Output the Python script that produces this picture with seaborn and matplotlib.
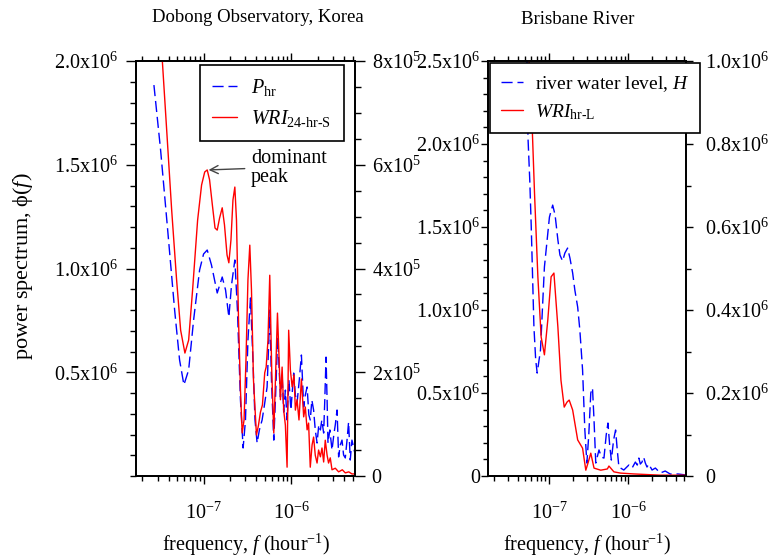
import matplotlib
matplotlib.use("Agg")
import matplotlib.pyplot as plt
from matplotlib.lines import Line2D
from matplotlib.ticker import FixedLocator, MultipleLocator, FixedFormatter, NullFormatter, FuncFormatter
import seaborn as sns
import pandas as pd
import numpy as np

# ---------------- data ----------------
# Dobong Observatory: hourly precipitation P_hr (left axis, units of 1e6)
dob_p_freq = [2.72e-8, 3.24e-8, 3.90e-8, 4.68e-8, 5.33e-8, 5.97e-8, 6.76e-8, 7.70e-8, 9.01e-8, 1.00e-7,
              1.10e-7, 1.23e-7, 1.43e-7, 1.63e-7, 1.78e-7, 1.94e-7, 2.08e-7, 2.27e-7, 2.43e-7, 2.63e-7,
              2.82e-7, 3.00e-7, 3.20e-7, 3.42e-7, 3.65e-7, 3.85e-7, 4.07e-7, 4.32e-7, 4.64e-7, 4.93e-7,
              5.29e-7, 5.48e-7, 5.67e-7, 5.93e-7, 6.30e-7, 6.58e-7, 6.98e-7, 7.50e-7, 7.84e-7, 8.17e-7,
              8.54e-7, 8.93e-7, 9.37e-7, 9.87e-7, 1.062e-6, 1.11e-6, 1.16e-6, 1.23e-6, 1.30e-6, 1.38e-6,
              1.44e-6, 1.51e-6, 1.58e-6, 1.64e-6, 1.71e-6, 1.79e-6, 1.87e-6, 1.96e-6, 2.05e-6, 2.14e-6,
              2.22e-6, 2.33e-6, 2.40e-6, 2.48e-6, 2.55e-6, 2.61e-6, 2.74e-6, 2.90e-6, 3.04e-6, 3.16e-6,
              3.31e-6, 3.45e-6, 3.60e-6, 3.77e-6, 3.93e-6, 4.11e-6, 4.30e-6, 4.48e-6, 4.68e-6, 4.89e-6,
              5.10e-6, 5.33e-6]
dob_p_val = [1.884, 1.571, 1.186, 0.800, 0.559, 0.439, 0.511, 0.752, 0.993, 1.070,
             1.089, 1.017, 0.882, 0.959, 0.896, 0.766, 0.920, 1.041, 0.800, 0.366,
             0.135, 0.270, 0.655, 0.858, 0.559, 0.270, 0.159, 0.222, 0.270, 0.342,
             0.429, 0.607, 0.800, 0.463, 0.173, 0.366, 0.670, 0.381, 0.487, 0.308,
             0.414, 0.270, 0.463, 0.318, 0.496, 0.390, 0.352, 0.463, 0.583, 0.333,
             0.390, 0.429, 0.294, 0.270, 0.366, 0.318, 0.222, 0.159, 0.246, 0.222,
             0.270, 0.207, 0.366, 0.573, 0.366, 0.159, 0.222, 0.125, 0.198, 0.246,
             0.318, 0.092, 0.149, 0.173, 0.101, 0.087, 0.173, 0.260, 0.077, 0.173,
             0.140, 0.101]

# Dobong Observatory: WRI_24-hr-S (right axis, units of 1e5)
dob_w_freq = [3.25e-8, 3.80e-8, 4.33e-8, 4.93e-8, 5.48e-8, 6.13e-8, 6.76e-8, 7.50e-8, 8.55e-8, 9.49e-8,
              1.03e-7, 1.10e-7, 1.17e-7, 1.26e-7, 1.35e-7, 1.43e-7, 1.52e-7, 1.63e-7, 1.73e-7, 1.85e-7,
              1.94e-7, 2.05e-7, 2.16e-7, 2.27e-7, 2.37e-7, 2.50e-7, 2.63e-7, 2.75e-7, 2.89e-7, 3.04e-7,
              3.20e-7, 3.36e-7, 3.51e-7, 3.70e-7, 4.00e-7, 4.22e-7, 4.44e-7, 4.68e-7, 4.97e-7, 5.16e-7,
              5.41e-7, 5.67e-7, 5.97e-7, 6.30e-7, 6.58e-7, 6.94e-7, 7.25e-7, 7.50e-7, 7.84e-7, 8.17e-7,
              8.54e-7, 8.93e-7, 9.31e-7, 9.74e-7, 1.02e-6, 1.07e-6, 1.11e-6, 1.16e-6, 1.22e-6, 1.30e-6,
              1.38e-6, 1.44e-6, 1.51e-6, 1.57e-6, 1.64e-6, 1.72e-6, 1.79e-6, 1.87e-6, 1.96e-6, 2.04e-6,
              2.14e-6, 2.23e-6, 2.33e-6, 2.43e-6, 2.55e-6, 2.65e-6, 2.77e-6, 2.90e-6, 3.16e-6, 3.45e-6,
              3.80e-6, 4.11e-6, 4.50e-6, 4.89e-6, 5.33e-6]
dob_w_val = [8.50, 6.67, 5.13, 3.78, 2.81, 2.37, 2.62, 3.59, 4.93, 5.61,
             5.86, 5.90, 5.71, 5.22, 4.78, 4.74, 4.97, 5.17, 4.84, 4.26,
             4.11, 4.55, 5.32, 5.57, 4.93, 3.01, 1.66, 0.83, 1.08, 2.24,
             3.78, 4.45, 3.59, 1.85, 0.79, 0.98, 1.23, 1.37, 1.99, 2.10,
             2.62, 3.87, 2.04, 0.83, 1.85, 3.14, 2.24, 1.47, 2.10, 1.27,
             0.98, 0.17, 2.81, 2.04, 1.72, 1.95, 1.27, 1.47, 1.08, 1.87,
             1.14, 1.33, 0.89, 1.02, 0.17, 0.60, 0.75, 0.40, 0.25, 0.50,
             0.37, 0.54, 0.27, 0.69, 0.40, 0.25, 0.35, 0.12, 0.15, 0.08,
             0.12, 0.06, 0.08, 0.04, 0.04]

# Brisbane River: water level H (left axis, units of 1e6)
bri_h_freq = [5.20e-8, 5.42e-8, 5.71e-8, 5.96e-8, 6.44e-8, 6.78e-8, 7.08e-8, 7.79e-8, 8.73e-8, 1.01e-7,
              1.11e-7, 1.19e-7, 1.29e-7, 1.37e-7, 1.48e-7, 1.58e-7, 1.71e-7, 1.83e-7, 1.98e-7, 2.11e-7,
              2.29e-7, 2.44e-7, 2.64e-7, 2.82e-7, 2.99e-7, 3.16e-7, 3.35e-7, 3.52e-7, 3.68e-7, 3.87e-7,
              4.25e-7, 4.56e-7, 4.91e-7, 5.24e-7, 5.51e-7, 5.79e-7, 6.08e-7, 6.49e-7, 6.88e-7, 7.22e-7,
              7.57e-7, 8.73e-7, 1.01e-6, 1.11e-6, 1.22e-6, 1.29e-6, 1.35e-6, 1.41e-6, 1.48e-6, 1.55e-6,
              1.63e-6, 1.71e-6, 1.80e-6, 1.98e-6, 2.18e-6, 2.51e-6, 2.90e-6, 3.35e-6, 4.22e-6, 5.31e-6]
bri_h_val = [2.70, 2.04, 1.78, 1.50, 0.898, 0.699, 0.620, 0.759, 1.259, 1.560,
             1.632, 1.572, 1.422, 1.331, 1.295, 1.343, 1.373, 1.313, 1.223, 1.120,
             1.018, 0.879, 0.639, 0.277, 0.078, 0.247, 0.500, 0.530, 0.337, 0.078,
             0.157, 0.114, 0.108, 0.247, 0.319, 0.187, 0.096, 0.217, 0.277, 0.157,
             0.054, 0.036, 0.066, 0.048, 0.084, 0.066, 0.108, 0.072, 0.084, 0.114,
             0.078, 0.054, 0.072, 0.036, 0.048, 0.018, 0.030, 0.012, 0.012, 0.006]

# Brisbane River: WRI_hr-L (right axis, units of 1e6)
bri_w_freq = [5.40e-8, 6.08e-8, 6.55e-8, 7.22e-8, 7.94e-8, 8.73e-8, 9.63e-8, 1.06e-7, 1.15e-7, 1.29e-7,
              1.41e-7, 1.55e-7, 1.68e-7, 1.79e-7, 1.98e-7, 2.29e-7, 2.64e-7, 2.90e-7, 3.12e-7, 3.35e-7,
              3.68e-7, 4.47e-7, 5.42e-7, 5.67e-7, 6.55e-7, 7.94e-7, 1.16e-6, 2.51e-6, 5.31e-6]
bri_w_val = [1.06, 0.858, 0.682, 0.480, 0.335, 0.292, 0.376, 0.480, 0.489, 0.359,
             0.231, 0.166, 0.178, 0.183, 0.159, 0.087, 0.067, 0.014, 0.034, 0.055,
             0.019, 0.014, 0.017, 0.024, 0.010, 0.007, 0.005, 0.002, 0.002]

titles = ["Dobong Observatory, Korea", "Brisbane River"]
legend_left = [r"$P_{\mathrm{hr}}$", r"$WRI_{\text{24-hr-S}}$"]
legend_right = [r"river water level, $H$", r"$WRI_{\text{hr-L}}$"]

# ---------------- style ----------------
sns.set_style("ticks")
plt.rcParams["font.family"] = ["Liberation Serif", "DejaVu Serif"]
plt.rcParams["mathtext.fontset"] = "custom"
plt.rcParams["mathtext.rm"] = "Liberation Serif"
plt.rcParams["mathtext.it"] = "Liberation Serif:italic"
plt.rcParams["mathtext.bf"] = "Liberation Serif:bold"
plt.rcParams["axes.edgecolor"] = "black"
plt.rcParams["xtick.color"] = "black"
plt.rcParams["ytick.color"] = "black"
plt.rcParams["text.color"] = "black"

FS = 14.5
BLUE = "#0000ff"
RED = "#ff0000"
DASH = (8, 3.5)

W, H = 770, 559
fig = plt.figure(figsize=(W / 100, H / 100), dpi=100)
axL = fig.add_axes([136 / W, 1 - 476 / H, (355 - 136) / W, (476 - 61) / H])
axR = fig.add_axes([488 / W, 1 - 476 / H, (686 - 488) / W, (476 - 61) / H])
axL2 = axL.twinx()
axR2 = axR.twinx()


def draw(ax, f, v, scale, color, dashed):
    df = pd.DataFrame({"f": f, "p": np.asarray(v) * scale})
    sns.lineplot(data=df, x="f", y="p", ax=ax, color=color, lw=1.0,
                 estimator=None, sort=False, legend=False)
    line = ax.lines[-1]
    if dashed:
        line.set_dashes(DASH)
    return line


draw(axL, dob_p_freq, dob_p_val, 1e6, BLUE, True)
draw(axL2, dob_w_freq, dob_w_val, 1e5, RED, False)
draw(axR, bri_h_freq, bri_h_val, 1e6, BLUE, True)
draw(axR2, bri_w_freq, bri_w_val, 1e6, RED, False)

for ax in (axL, axR, axL2, axR2):
    ax.set_xscale("log")
    ax.set_xlim(1.7e-8, 5.3e-6)
    ax.set_xlabel("")
    ax.set_ylabel("")
    for s in ax.spines.values():
        s.set_visible(True)
        s.set_linewidth(1.3)
        s.set_color("black")

for ax in (axL, axR):
    ax.xaxis.set_major_locator(FixedLocator([1e-8, 1e-7, 1e-6]))
    ax.xaxis.set_major_formatter(FuncFormatter(lambda x, p: r"$10^{%d}$" % round(np.log10(x))))
    ax.xaxis.set_minor_formatter(NullFormatter())
    ax.tick_params(axis="x", which="both", direction="out", top=True, bottom=True,
                   labelsize=FS, pad=13)
    ax.tick_params(axis="x", which="major", length=6, width=1)
    ax.tick_params(axis="x", which="minor", length=3.5, width=1)


def yaxis(ax, lim, majors, labels, minor, maj_len, min_len, pad):
    ax.set_ylim(*lim)
    ax.yaxis.set_major_locator(FixedLocator(majors))
    ax.yaxis.set_major_formatter(FixedFormatter(labels))
    ax.yaxis.set_minor_locator(MultipleLocator(minor))
    ax.tick_params(axis="y", which="both", direction="out", labelsize=FS, pad=pad)
    ax.tick_params(axis="y", which="major", length=maj_len, width=1)
    ax.tick_params(axis="y", which="minor", length=min_len, width=1)


yaxis(axL, (0, 2.0e6), [0.5e6, 1.0e6, 1.5e6, 2.0e6],
      [r"0.5x$10^{6}$", r"1.0x$10^{6}$", r"1.5x$10^{6}$", r"2.0x$10^{6}$"],
      1e5, 7, 4, 6)
yaxis(axL2, (0, 8e5), [0, 2e5, 4e5, 6e5, 8e5],
      ["0", r"2x$10^{5}$", r"4x$10^{5}$", r"6x$10^{5}$", r"8x$10^{5}$"],
      0.5e5, 7, 4, 5)
yaxis(axR, (0, 2.5e6), [0, 0.5e6, 1.0e6, 1.5e6, 2.0e6, 2.5e6],
      ["0", r"0.5x$10^{6}$", r"1.0x$10^{6}$", r"1.5x$10^{6}$", r"2.0x$10^{6}$", r"2.5x$10^{6}$"],
      1e5, 5, 3.5, 0.5)
yaxis(axR2, (0, 1.0e6), [0, 0.2e6, 0.4e6, 0.6e6, 0.8e6, 1.0e6],
      ["0", r"0.2x$10^{6}$", r"0.4x$10^{6}$", r"0.6x$10^{6}$", r"0.8x$10^{6}$", r"1.0x$10^{6}$"],
      1e5, 5, 3.5, 9)

# legends
def handles():
    h1 = Line2D([], [], color=BLUE, lw=1.0)
    h1.set_dashes(DASH)
    h2 = Line2D([], [], color=RED, lw=1.0)
    return [h1, h2]


leg_specs = [
    (legend_left, (200 / W, 1 - 65 / H), 14.5, 1.25, 0.7, 0.6, 0.5),
    (legend_right, (490 / W, 1 - 63 / H), 14.0, 1.15, 0.6, 0.55, 0.45),
]
for labels, anchor, fs, hl, htp, bp, ls in leg_specs:
    leg = fig.legend(handles(), labels, loc="upper left", bbox_to_anchor=anchor,
                     frameon=True, fancybox=False, framealpha=1, edgecolor="black",
                     fontsize=fs, handlelength=hl, handletextpad=htp, borderaxespad=0,
                     borderpad=bp, labelspacing=ls)
    leg.get_frame().set_linewidth(1.2)

# annotation
axL2.annotate("dominant\npeak", xy=(1.14e-7, 5.90e5), xytext=(3.45e-7, 5.93e5),
              ha="left", va="center", fontsize=FS, linespacing=1.0,
              arrowprops=dict(arrowstyle="->", color="#444444", lw=1.0,
                              shrinkA=2, shrinkB=0, relpos=(0, 0.5)))

# titles and axis labels
fig.text(258 / W, 1 - 18 / H, titles[0], ha="center", va="center", fontsize=13.5)
fig.text(578 / W, 1 - 20 / H, titles[1], ha="center", va="center", fontsize=13.5)
fig.text(246 / W, 1 - 545 / H, r"frequency, $f$ (hour$^{-1}$)", ha="center", va="center", fontsize=14.5)
fig.text(587 / W, 1 - 545 / H, r"frequency, $f$ (hour$^{-1}$)", ha="center", va="center", fontsize=14.5)
fig.text(23 / W, 1 - 266 / H, "power spectrum, \u03d5($f$)", rotation=90,
         ha="center", va="center", fontsize=16)

fig.savefig("out.png", dpi=100)
